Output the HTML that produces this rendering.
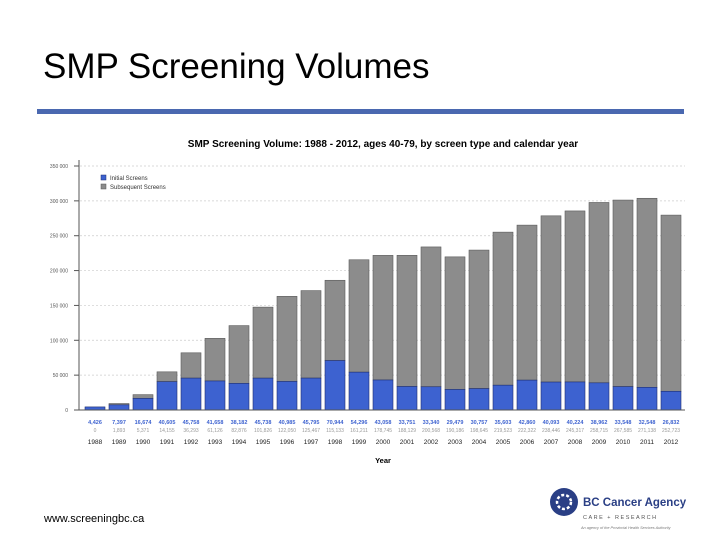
<!DOCTYPE html>
<html><head><meta charset="utf-8"><style>
body{margin:0;width:720px;height:540px;background:#fff;overflow:hidden;font-family:"Liberation Sans",sans-serif;position:relative}
#title{position:absolute;left:43px;top:47px;font-size:35px;color:#000}
#rule{position:absolute;left:37px;top:109px;width:647px;height:5px;background:#4a68b0}
#foot{position:absolute;left:44px;top:513px;font-size:11px;color:#000}
</style></head><body>
<div id="title">SMP Screening Volumes</div>
<div id="rule"></div>
<div id="foot">www.screeningbc.ca</div>
<svg id="chart" width="720" height="540" style="position:absolute;left:0;top:0"></svg>
<svg width="720" height="540" style="position:absolute;left:0;top:0;pointer-events:none">
<circle cx="564" cy="502" r="14" fill="#2a3f85"/>
<circle cx="564" cy="502" r="7" fill="none" stroke="#fff" stroke-width="2.5" stroke-dasharray="3 2"/>
<text x="583" y="506" font-size="11.5" font-weight="bold" fill="#2a3f85">BC Cancer Agency</text>
<text x="583" y="519" font-size="5.5" fill="#555" letter-spacing="1.5">CARE + RESEARCH</text>
<text x="581" y="529" font-size="3.8" fill="#777" font-style="italic">An agency of the Provincial Health Services Authority</text>
</svg>
<script>
const years=[1988,1989,1990,1991,1992,1993,1994,1995,1996,1997,1998,1999,2000,2001,2002,2003,2004,2005,2006,2007,2008,2009,2010,2011,2012];
const initial=[4426,7397,16674,40605,45758,41658,38182,45738,40985,45795,70944,54296,43058,33751,33340,29479,30757,35603,42860,40093,40224,38962,33548,32548,26832];
const subsequent=[0,1893,5371,14155,36293,61126,82876,101826,122050,125467,115133,161211,178745,188129,200568,190186,198645,219523,222322,238446,245317,258715,267585,271138,252723];
const ticks=[0,50000,100000,150000,200000,250000,300000,350000];
const NS="http://www.w3.org/2000/svg";
const svg=document.getElementById('chart');
function y(v){return 410-v*(244/350000);}
function x(i){return 85+i*24;}
function mk(t,a,txt){const e=document.createElementNS(NS,t);for(const k in a)e.setAttribute(k,a[k]);if(txt!=null)e.textContent=txt;svg.appendChild(e);return e;}
const fmt=v=>v.toLocaleString('en-US');
let e;
e=mk('text',{x:383,y:147,'font-size':10,'font-weight':'bold','text-anchor':'middle'},'SMP Screening Volume: 1988 - 2012, ages 40-79, by screen type and calendar year');

ticks.forEach(t=>{
 if(t>0){e=mk('line',{x1:80,x2:685,y1:y(t),y2:y(t),stroke:'#ccc','stroke-dasharray':'2 2','stroke-width':0.7});
 }
 e=mk('line',{x1:74,x2:79,y1:y(t),y2:y(t),stroke:'#555'});
 
 e=mk('text',{x:68,y:y(t)+2,'font-size':5,'text-anchor':'end',fill:'#555'},fmt(t).replace(',',' '));
 
});
e=mk('line',{x1:79,x2:79,y1:160,y2:410,stroke:'#555'});

years.forEach((yr,i)=>{
 const tot=initial[i]+subsequent[i];
 e=mk('rect',{x:x(i),y:y(tot),width:20,height:y(initial[i])-y(tot),fill:'#8c8c8c',stroke:'#5a5a5a','stroke-width':0.6});
 
 e=mk('rect',{x:x(i),y:y(initial[i]),width:20,height:410-y(initial[i]),fill:'#3d62d0',stroke:'#1f2f70','stroke-width':0.6});
 
 e=mk('text',{x:x(i)+10,y:424,'font-size':5.5,'text-anchor':'middle',fill:'#3d62d0','font-weight':'bold'},fmt(initial[i]));
 
 e=mk('text',{x:x(i)+10,y:432,'font-size':5,'text-anchor':'middle',fill:'#999'},fmt(subsequent[i]));
 
 e=mk('text',{x:x(i)+10,y:444,'font-size':6.5,'text-anchor':'middle',fill:'#222'},yr);
 
});
e=mk('line',{x1:79,x2:685,y1:410,y2:410,stroke:'#555'});

e=mk('text',{x:383,y:463,'font-size':7.5,'font-weight':'bold','text-anchor':'middle'},'Year');

e=mk('rect',{x:101,y:175,width:5,height:5,fill:'#3d62d0',stroke:'#1f2f70','stroke-width':0.5});

e=mk('text',{x:110,y:180,'font-size':6,fill:'#333'},'Initial Screens');

e=mk('rect',{x:101,y:184,width:5,height:5,fill:'#8c8c8c',stroke:'#555','stroke-width':0.5});

e=mk('text',{x:110,y:189,'font-size':6,fill:'#333'},'Subsequent Screens');

</script>
</body></html>
